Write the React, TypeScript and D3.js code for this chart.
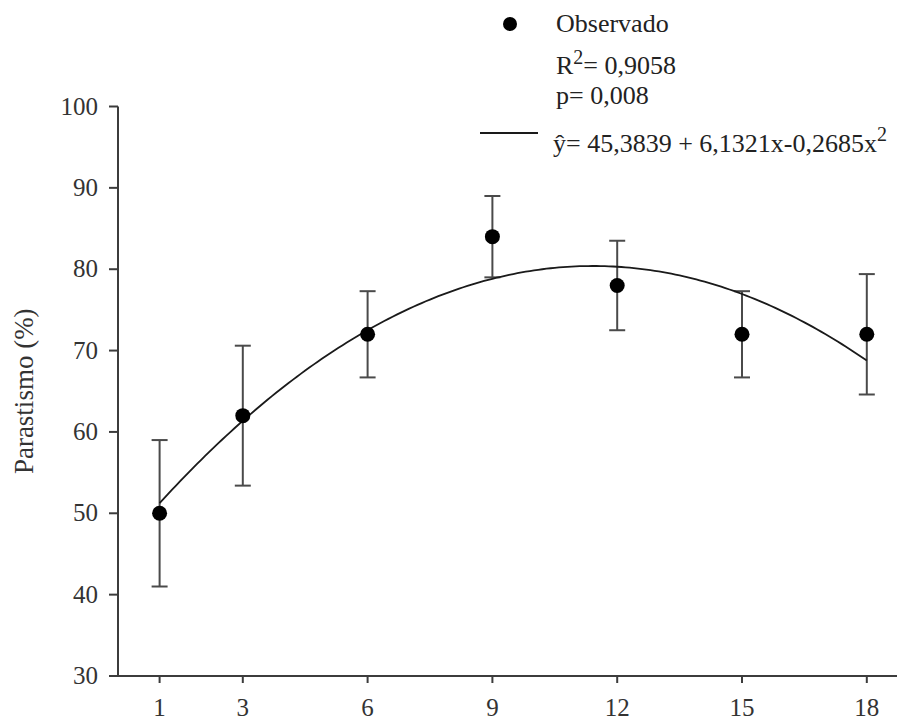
import React from 'react';
import * as d3 from 'd3';

// days (x) and observed parasitism (%)
const days = [1, 3, 6, 9, 12, 15, 18];
const observed = [50, 62, 72, 84, 78, 72, 72];
const errors = [9, 8.6, 5.3, 5, 5.5, 5.3, 7.4];
const yTicks = [30, 40, 50, 60, 70, 80, 90, 100];
// regression ŷ = b0 + b1 x + b2 x²
const coef = [45.3839, 6.1321, -0.2685];

const W = 897;
const H = 723;
const font = (size: number) => ({ fontFamily: "'Liberation Serif'", fontSize: `${size}px` });
const AXIS = '#3c3c3c';

const App = () => {
  const x = d3.scaleLinear().domain([0, 19]).range([118, 118 + 19 * 41.6]);
  const y = d3.scaleLinear().domain([30, 100]).range([676, 106.5]);

  const fit = (t: number) => coef[0] + coef[1] * t + coef[2] * t * t;
  const xs = d3.range(days[0], days[days.length - 1] + 0.001, 0.1);
  const curve = d3
    .line<number>()
    .x((t) => x(t))
    .y((t) => y(fit(t)))(xs);

  const data = days.map((d, i) => ({ d, v: observed[i], e: errors[i] }));

  return (
    <svg width={W} height={H} style={{ position: 'absolute', left: 0, top: 0, background: '#fff' }}>
      {/* y axis */}
      <line x1={x(0)} x2={x(0)} y1={y(100)} y2={y(30)} stroke={AXIS} strokeWidth={2} />
      {yTicks.map((t) => (
        <g key={t} transform={`translate(${x(0)},${y(t)})`}>
          <line x1={-9} x2={0} stroke={AXIS} strokeWidth={2} />
          <text x={-20} dy="0.32em" textAnchor="end" fill="#333" style={font(25)}>
            {t}
          </text>
        </g>
      ))}

      {/* x axis */}
      <line x1={x(0) - 9} x2={W} y1={y(30)} y2={y(30)} stroke={AXIS} strokeWidth={2} />
      {days.map((d) => (
        <g key={d} transform={`translate(${x(d)},${y(30)})`}>
          <line y1={0} y2={7} stroke={AXIS} strokeWidth={2} />
          <text y={40} textAnchor="middle" fill="#333" style={font(25)}>
            {d}
          </text>
        </g>
      ))}

      {/* y title */}
      <text
        transform={`translate(33,${(y(30) + y(100)) / 2}) rotate(-90)`}
        textAnchor="middle"
        fill="#333"
        style={font(27)}
      >
        Parastismo (%)
      </text>

      {/* error bars */}
      <g stroke="#4a4a4a" strokeWidth={2}>
        {data.map((p) => (
          <g key={p.d}>
            <line x1={x(p.d)} x2={x(p.d)} y1={y(p.v + p.e)} y2={y(p.v - p.e)} />
            <line x1={x(p.d) - 8} x2={x(p.d) + 8} y1={y(p.v + p.e)} y2={y(p.v + p.e)} />
            <line x1={x(p.d) - 8} x2={x(p.d) + 8} y1={y(p.v - p.e)} y2={y(p.v - p.e)} />
          </g>
        ))}
      </g>

      {/* fitted curve */}
      <path d={curve || ''} fill="none" stroke="#1a1a1a" strokeWidth={1.8} />

      {/* points */}
      {data.map((p) => (
        <circle key={p.d} cx={x(p.d)} cy={y(p.v)} r={7.5} fill="#000" />
      ))}

      {/* legend */}
      <g fill="#222">
        <circle cx={510} cy={24} r={7} fill="#000" />
        <text x={556} y={32} style={font(26)}>
          Observado
        </text>
        <text x={556} y={74} style={font(26)}>
          R
          <tspan dy={-10} style={font(20)}>
            2
          </tspan>
          <tspan dy={10}>= 0,9058</tspan>
        </text>
        <text x={556} y={104} style={font(26)}>
          p= 0,008
        </text>
        <line x1={480} x2={538} y1={133} y2={133} stroke="#1a1a1a" strokeWidth={1.8} />
        <text x={553} y={152} style={font(26)}>
          ŷ= 45,3839 + 6,1321x-0,2685x
          <tspan dy={-11} style={font(20)}>
            2
          </tspan>
        </text>
      </g>
    </svg>
  );
};

export default App;
